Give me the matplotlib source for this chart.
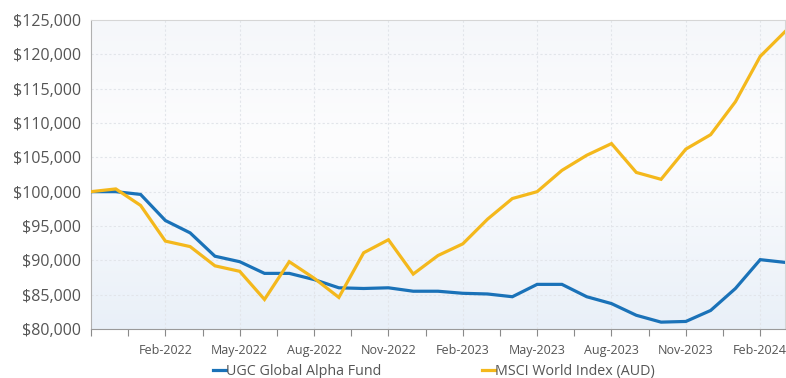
import matplotlib
matplotlib.use("Agg")
import matplotlib.pyplot as plt
import numpy as np
from matplotlib.colors import LinearSegmentedColormap
from matplotlib.ticker import FuncFormatter

months = ["Nov-2021", "Dec-2021", "Jan-2022", "Feb-2022", "Mar-2022", "Apr-2022",
          "May-2022", "Jun-2022", "Jul-2022", "Aug-2022", "Sep-2022", "Oct-2022",
          "Nov-2022", "Dec-2022", "Jan-2023", "Feb-2023", "Mar-2023", "Apr-2023",
          "May-2023", "Jun-2023", "Jul-2023", "Aug-2023", "Sep-2023", "Oct-2023",
          "Nov-2023", "Dec-2023", "Jan-2024", "Feb-2024", "Mar-2024"]

ugc = [100000, 100000, 99600, 95800, 94000, 90600, 89800, 88100, 88100, 87200,
       86000, 85900, 86000, 85500, 85500, 85200, 85100, 84700, 86500, 86500,
       84700, 83700, 82000, 81000, 81100, 82700, 85900, 90100, 89700]

msci = [100000, 100400, 98000, 92800, 92000, 89200, 88400, 84300, 89800, 87400,
        84600, 91100, 93000, 88000, 90700, 92400, 96000, 99000, 100000, 103100,
        105300, 107000, 102800, 101800, 106200, 108300, 113100, 119700, 123300]

series_names = ["UGC Global Alpha Fund", "MSCI World Index (AUD)"]
colors = ["#1a72b8", "#f4b81c"]
fam = ["Open Sans", "DejaVu Sans"]

fig = plt.figure(figsize=(7.86, 3.78), dpi=100)
ax = fig.add_axes([91 / 786, 1 - 329 / 378, 694 / 786, 309 / 378])

# soft background gradient of the plot area
cmap = LinearSegmentedColormap.from_list(
    "bg", [(0.0, "#e9f0f8"), (0.6, "#fdfdfe"), (1.0, "#f5f7fa")])
grad = np.linspace(0, 1, 256).reshape(-1, 1)
ax.imshow(grad, aspect="auto", cmap=cmap, origin="lower",
          extent=[0, 1, 0, 1], transform=ax.transAxes, zorder=0)

x = np.arange(len(months))
ax.plot(x, ugc, color=colors[0], lw=2.3, label=series_names[0], zorder=3,
        solid_joinstyle="miter")
ax.plot(x, msci, color=colors[1], lw=2.3, label=series_names[1], zorder=3,
        solid_joinstyle="miter")

ax.set_xlim(0, len(months) - 1)
ax.set_ylim(80000, 125000)

ax.set_yticks(np.arange(80000, 125001, 5000))
ax.yaxis.set_major_formatter(FuncFormatter(lambda v, p: "${:,.0f}".format(v)))

ticks = np.arange(0, len(months) - 1, 1.5)
labels = [months[int(t)] if (t % 3 == 0 and t > 0) else "" for t in ticks]
ax.set_xticks(ticks)
ax.set_xticklabels(labels)

for t in x[3::3]:
    ax.axvline(t, color="#e2e5ea", lw=0.8, ls=(0, (2, 2)), zorder=1)
for v in np.arange(85000, 125000, 5000):
    ax.axhline(v, color="#e2e5ea", lw=0.8, ls=(0, (2, 2)), zorder=1)

ax.tick_params(axis="x", length=5, color="#8a8a8a", labelsize=9.0,
               labelcolor="#555555", pad=6)
ax.tick_params(axis="y", length=0, labelsize=11.5, labelcolor="#555555", pad=7)
for lab in ax.get_xticklabels() + ax.get_yticklabels():
    lab.set_family(fam)

ax.spines["left"].set_color("#b0b0b0")
ax.spines["bottom"].set_color("#9a9a9a")
ax.spines["top"].set_color("#d6d6d6")
ax.spines["right"].set_color("#d6d6d6")

leg = fig.legend(loc="center", ncol=2, frameon=False,
                 bbox_to_anchor=(0.552, 0.018), handlelength=0.9,
                 handletextpad=0.0, columnspacing=7.0,
                 prop={"family": fam, "size": 10.3})
for txt in leg.get_texts():
    txt.set_color("#555555")

fig.savefig("out.png", dpi=100)
